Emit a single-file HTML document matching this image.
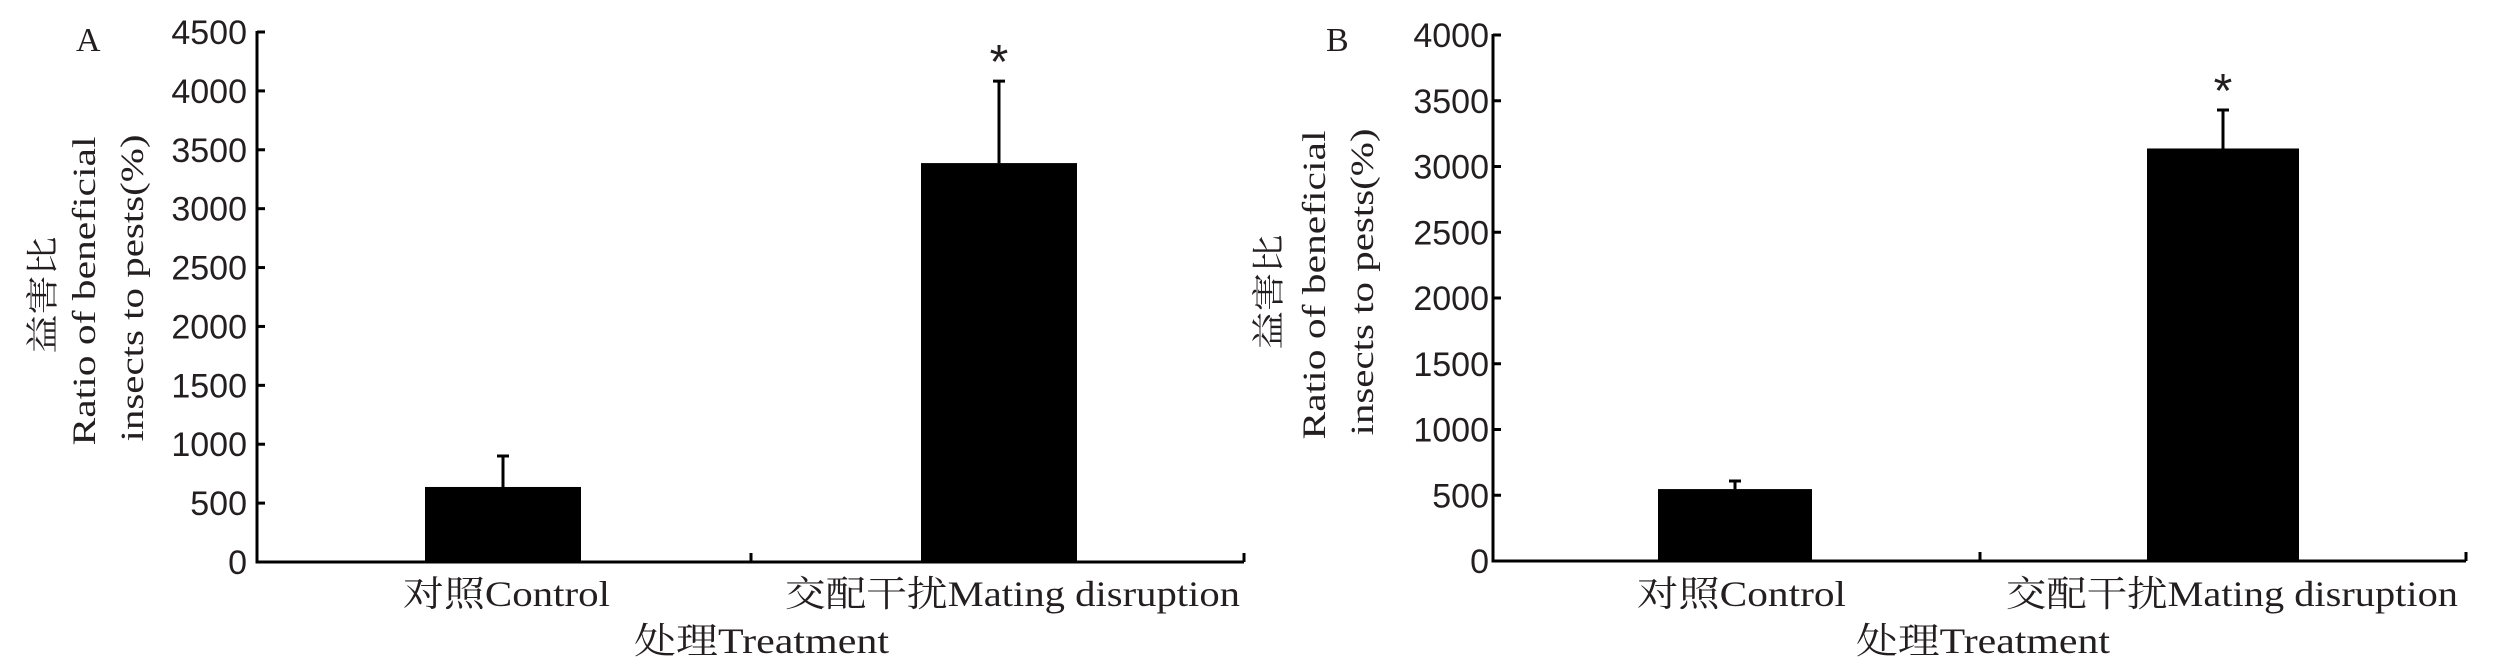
<!DOCTYPE html>
<html><head><meta charset="utf-8">
<style>
html,body{margin:0;padding:0;background:#fff;}
svg{display:block;}
text{fill:#231f20;}
.tick{font-family:"Liberation Sans",sans-serif;font-size:34px;}
.serif{font-family:"Liberation Serif","Noto Serif CJK SC",serif;}
</style></head>
<body>
<svg id="chart" width="2500" height="669" viewBox="0 0 2500 669" xmlns="http://www.w3.org/2000/svg"></svg>
<script>
const categories = ["对照Control", "交配干扰Mating disruption"];
const valuesA = [637, 3387];
const errorsA = [263, 696];
const valuesB = [547, 3137];
const errorsB = [61, 293];
const ticksA = [0, 500, 1000, 1500, 2000, 2500, 3000, 3500, 4000, 4500];
const ticksB = [0, 500, 1000, 1500, 2000, 2500, 3000, 3500, 4000];
const sigA = ["", "*"];
const sigB = ["", "*"];

const NS = "http://www.w3.org/2000/svg";
const svg = document.getElementById("chart");
function mk(tag, attrs, parent) {
  const e = document.createElementNS(NS, tag);
  for (const k in attrs) e.setAttribute(k, attrs[k]);
  (parent || svg).appendChild(e);
  return e;
}

const panels = [
  {id:"a", letter:"A", values:valuesA, errors:errorsA, ticks:ticksA, sig:sigA,
   x0:257, x1:1244, y0:562, y1:32, letterX:76, letterY:51,
   bars:[[425,581],[921,1077]], mid:751, tickRight:247,
   ylab:[[43,295,117,"益害比"],[84,291,309,"Ratio of beneficial"],[132,288,307,"insects to pests(%)"]],
   xlab:[[403,207],[785,455]], title:[634,255]},
  {id:"b", letter:"B", values:valuesB, errors:errorsB, ticks:ticksB, sig:sigB,
   x0:1493, x1:2466, y0:561, y1:35, letterX:1326, letterY:51,
   bars:[[1658,1812],[2147,2299]], mid:1980, tickRight:1489,
   ylab:[[1269,292,115,"益害比"],[1314,285,309,"Ratio of beneficial"],[1362,282,307,"insects to pests(%)"]],
   xlab:[[1637,209],[2006,452]], title:[1856,254]}
];

panels.forEach(p => {
  const g = mk("g", {});
  
  
  const maxV = p.ticks[p.ticks.length - 1];
  const yScale = v => p.y0 - (v / maxV) * (p.y0 - p.y1);

  const lt = mk("text", {x:p.letterX, y:p.letterY, class:"serif", "font-size":"34"}, g);
  lt.textContent = p.letter;
  
  

  p.values.forEach((v, i) => {
    const [bx0, bx1] = p.bars[i];
    const r = mk("rect", {x:bx0, y:yScale(v), width:bx1-bx0, height:p.y0-yScale(v), fill:"#000"}, g);
    
    
    const cx = (bx0 + bx1) / 2;
    const et = yScale(v + p.errors[i]);
    const el = mk("path", {d:`M${cx} ${yScale(v)} V${et} M${cx-6} ${et} H${cx+6}`, stroke:"#000", "stroke-width":"3", fill:"none"}, g);
    
    
    if (p.sig[i]) {
      const s = mk("text", {x:cx, y:et - 3, "text-anchor":"middle", class:"tick"}, g);
      s.setAttribute("style", "font-size:48px");
      s.textContent = p.sig[i];
      
      
    }
  });

  const ya = mk("line", {x1:p.x0, y1:p.y1-1, x2:p.x0, y2:p.y0+1.5, stroke:"#000", "stroke-width":"3"}, g);
  
  
  const xa = mk("line", {x1:p.x0-1.5, y1:p.y0, x2:p.x1, y2:p.y0, stroke:"#000", "stroke-width":"3"}, g);
  
  
  [p.mid, p.x1].forEach(tx => {
    const t = mk("line", {x1:tx, y1:p.y0, x2:tx, y2:p.y0-9, stroke:"#000", "stroke-width":"3"}, g);
    
    
  });

  p.ticks.forEach(tv => {
    const y = yScale(tv);
    const t = mk("line", {x1:p.x0, y1:y, x2:p.x0+8, y2:y, stroke:"#000", "stroke-width":"3"}, g);
    
    
    const tl = mk("text", {x:p.tickRight, y:y+12, "text-anchor":"end", class:"tick"}, g);
    tl.textContent = tv;
    
    
  });

  p.ylab.forEach(([x, cy, len, txt], i) => {
    const t = mk("text", {x:0, y:0, class:"serif", "font-size":"33", "text-anchor":"middle",
      textLength:len, lengthAdjust:"spacingAndGlyphs",
      transform:`translate(${x+11},${cy}) rotate(-90)`}, g);
    t.textContent = txt;
    
    
  });

  categories.forEach((c, i) => {
    const [lx, lw] = p.xlab[i];
    const t = mk("text", {x:lx, y:606, class:"serif", "font-size":"36", textLength:lw, lengthAdjust:"spacingAndGlyphs"}, g);
    t.textContent = c;
    
    
  });
  const tt = mk("text", {x:p.title[0], y:653, class:"serif", "font-size":"36", textLength:p.title[1], lengthAdjust:"spacingAndGlyphs"}, g);
  tt.textContent = "处理Treatment";
  
  
});
</script>
</body></html>
